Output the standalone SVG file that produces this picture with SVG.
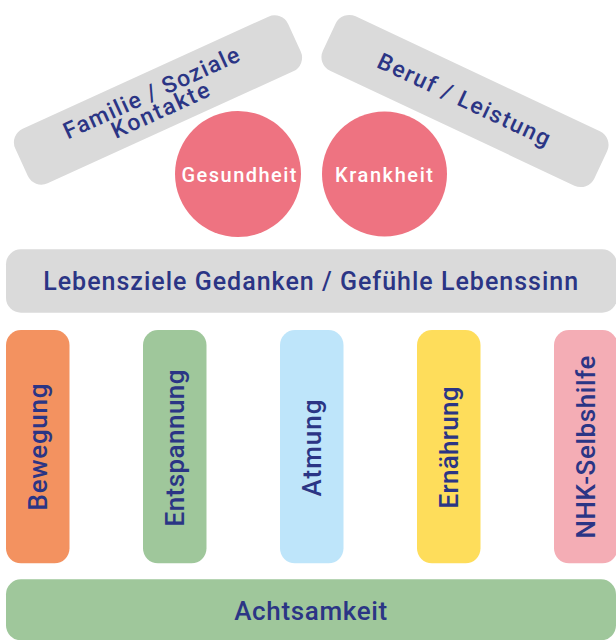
<svg xmlns="http://www.w3.org/2000/svg" width="616" height="640" viewBox="0 0 616 640">
<style>
.t{font-family:Roboto,"Liberation Sans",Arial,sans-serif;font-weight:500;fill:#2b3585;text-anchor:middle}
.w{font-family:Roboto,"Liberation Sans",Arial,sans-serif;font-weight:500;fill:#ffffff;text-anchor:middle}
.gray{fill:#dadada}
</style>
<rect width="616" height="640" fill="#ffffff"/>
<g id="roof-left" transform="translate(158,100) rotate(-24.5)">
<rect class="gray" x="-150" y="-30" width="300" height="60" rx="15"/>
<text class="t" x="-3" y="-1.5" font-size="23" textLength="191" lengthAdjust="spacing">Familie / Soziale</text>
<text class="t" x="-2" y="18" font-size="23" textLength="105" lengthAdjust="spacing">Kontakte</text>
</g>
<g id="roof-right" transform="translate(465,101) rotate(25.2)">
<rect class="gray" x="-150" y="-30" width="300" height="60" rx="15"/>
<text class="t" x="-1.5" y="7" font-size="23" textLength="188" lengthAdjust="spacing">Beruf / Leistung</text>
</g>
<g id="gesundheit">
<circle cx="238" cy="174" r="63" fill="#ee7381"/>
<text class="w" x="239" y="182.3" font-size="20" textLength="115" lengthAdjust="spacing">Gesundheit</text>
</g>
<g id="krankheit">
<circle cx="384.5" cy="174" r="62.5" fill="#ee7381"/>
<text class="w" x="384" y="182.3" font-size="20" textLength="98" lengthAdjust="spacing">Krankheit</text>
</g>
<g id="lebensziele">
<rect class="gray" x="6" y="249.3" width="611" height="63.4" rx="15"/>
<text class="t" x="310.7" y="290" font-size="25" textLength="535" lengthAdjust="spacing">Lebensziele Gedanken / Gefühle Lebenssinn</text>
</g>
<g id="bewegung">
<rect x="6" y="330" width="63.5" height="233.3" rx="15" fill="#f39260"/>
<text class="t" transform="translate(47,447) rotate(-90)" font-size="26" textLength="127" lengthAdjust="spacing">Bewegung</text>
</g>
<g id="entspannung">
<rect x="143" y="330" width="63.5" height="233.3" rx="15" fill="#9fc79b"/>
<text class="t" transform="translate(184,448) rotate(-90)" font-size="26" textLength="157" lengthAdjust="spacing">Entspannung</text>
</g>
<g id="atmung">
<rect x="280" y="330" width="63.5" height="233.3" rx="15" fill="#bee5fa"/>
<text class="t" transform="translate(321,448) rotate(-90)" font-size="26" textLength="97" lengthAdjust="spacing">Atmung</text>
</g>
<g id="ernaehrung">
<rect x="417" y="330" width="63.5" height="233.3" rx="15" fill="#fedd5b"/>
<text class="t" transform="translate(458,447.5) rotate(-90)" font-size="26" textLength="122" lengthAdjust="spacing">Ernährung</text>
</g>
<g id="nhk">
<rect x="554" y="330" width="63.5" height="233.3" rx="15" fill="#f4adb5"/>
<text class="t" transform="translate(595,447) rotate(-90)" font-size="26" textLength="183" lengthAdjust="spacing">NHK-Selbshilfe</text>
</g>
<g id="achtsamkeit">
<rect x="6" y="579.3" width="610" height="61" rx="15" fill="#9fc79b"/>
<text class="t" x="310.7" y="620" font-size="26" textLength="153" lengthAdjust="spacing">Achtsamkeit</text>
</g>
<g id="connectors"/>
</svg>
